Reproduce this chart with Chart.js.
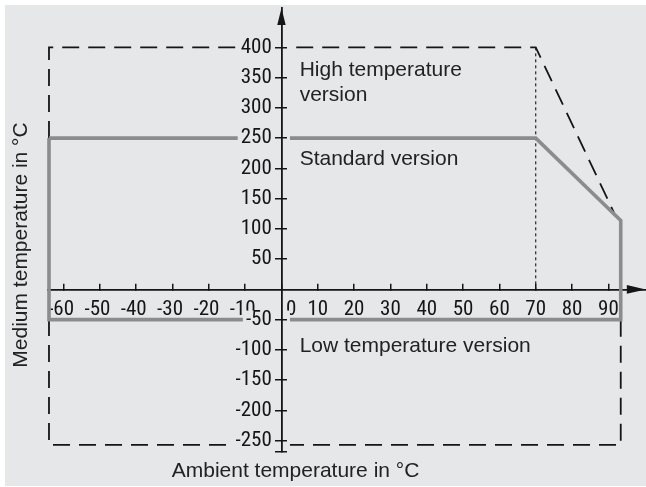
<!DOCTYPE html>
<html><head><meta charset="utf-8">
<script src="https://cdn.jsdelivr.net/npm/chart.js@4.4.1/dist/chart.umd.min.js"></script>
<style>
html,body{margin:0;padding:0;background:#fff;}
#wrap{position:relative;width:646px;height:487px;overflow:hidden;}
#bg{position:absolute;left:5px;top:5px;width:641px;height:481px;background:#e6e7e8;}
canvas{position:absolute;left:0;top:0;}
</style></head><body>
<div id="wrap"><div id="bg"></div><canvas id="c" width="646" height="487"></canvas></div>
<script>
// ---- data ----
const xTickValues = [-60, -50, -40, -30, -20, -10, 0, 10, 20, 30, 40, 50, 60, 70, 80, 90];
const yTickValues = [-250, -200, -150, -100, -50, 50, 100, 150, 200, 250, 300, 350, 400];
const yAxisEnd = -268;

// Standard version (solid grey outline)
const stdX = [-64, 70, 93.4, 93.4, -64, -64];
const stdY = [250, 250, 114, -50, -50, 250];
// High temperature version (dashed, upper part)
const hiX = [-64, -64, 70, 91.6];
const hiY = [250, 400, 400, 126];
// Low temperature version (dashed, lower part)
const loX = [93.4, 93.4, -64, -64];
const loY = [-50, -257, -257, -50];
// 70 °C reference (dotted)
const refX = [70, 70];
const refY = [400, 0];

const regionLabels = [
  {text: 'High temperature', x: 5, y: 352.6},
  {text: 'version', x: 5, y: 311.8},
  {text: 'Standard version', x: 5, y: 205},
  {text: 'Low temperature version', x: 5, y: -103}
];
const xTitle = 'Ambient temperature in °C';
const yTitle = 'Medium temperature in °C';

// ---- styling ----
const BG = '#e6e7e8';
const INK = '#151515';
const GREY = '#8c8c8c';
const textFamily = "'Liberation Sans', Arial, Helvetica, sans-serif";
const tickFamily = "'Roboto Condensed', 'DejaVu Sans Condensed', sans-serif";

const pts = (xs, ys) => xs.map((x, i) => ({x: x, y: ys[i]}));
const minus = '-';
function xLabel(v) {
  if (v === 0) return '    0';
  if (v < 0) return minus + (-v) + ' ';
  return String(v);
}
function yLabel(v) {
  if (v === yAxisEnd) return '';
  return (v < 0 ? minus + (-v) : String(v)) + '  ';
}

const decor = {
  id: 'decor',
  afterDraw(chart) {
    const c = chart.ctx, a = chart.chartArea;
    const xs = chart.scales.x, ys = chart.scales.y;
    const ax = xs.getPixelForValue(0), ay = ys.getPixelForValue(0);
    c.save();
    c.fillStyle = INK;
    // y arrow
    c.beginPath();
    c.moveTo(ax, a.top);
    c.lineTo(ax - 4.2, a.top + 17);
    c.lineTo(ax + 4.2, a.top + 17);
    c.closePath(); c.fill();
    // x arrow
    c.beginPath();
    c.moveTo(a.right, ay);
    c.lineTo(a.right - 19, ay - 4.3);
    c.lineTo(a.right - 19, ay + 4.3);
    c.closePath(); c.fill();
    // region labels
    c.fillStyle = '#222';
    c.font = '21px ' + textFamily;
    c.textAlign = 'left';
    c.textBaseline = 'alphabetic';
    regionLabels.forEach(l => c.fillText(l.text, xs.getPixelForValue(l.x), ys.getPixelForValue(l.y)));
    // axis titles
    c.fillText(xTitle, 171.7, 477);
    c.translate(26.7, 245);
    c.rotate(-Math.PI / 2);
    c.textAlign = 'center';
    c.fillText(yTitle, 0, 0);
    c.restore();
  }
};

const setTicks = list => scale => { scale.ticks = list.map(v => ({value: v})); };

new Chart(document.getElementById('c'), {
  type: 'scatter',
  data: {
    datasets: [
      {label: 'Standard version', data: pts(stdX, stdY), showLine: true, borderColor: GREY, borderWidth: 3.6,
       borderJoinStyle: 'miter', pointRadius: 0, fill: false, clip: false},
      {label: 'High temperature version', data: pts(hiX, hiY), showLine: true, borderColor: INK, borderWidth: 1.8,
       borderDash: [17, 9], pointRadius: 0, fill: false, clip: false},
      {label: 'Low temperature version', data: pts(loX, loY), showLine: true, borderColor: INK, borderWidth: 1.8,
       borderDash: [17, 9], pointRadius: 0, fill: false, clip: false},
      {label: '70 °C', data: pts(refX, refY), showLine: true, borderColor: INK, borderWidth: 1.1,
       borderDash: [3, 3], pointRadius: 0, fill: false, clip: false}
    ]
  },
  options: {
    responsive: false, animation: false, devicePixelRatio: 1,
    layout: {padding: {left: 47.9, right: 0.2, top: 8, bottom: 35.4}},
    plugins: {legend: {display: false}, tooltip: {enabled: false}},
    scales: {
      x: {
        type: 'linear', min: -64.3, max: 100.3, position: {y: 0},
        afterBuildTicks: setTicks(xTickValues),
        ticks: {autoSkip: false, maxRotation: 0, minRotation: 0, padding: 16.5, color: INK,
                font: {family: tickFamily, size: 21, lineHeight: 1}, callback: v => xLabel(v)},
        grid: {drawOnChartArea: false, drawTicks: true, tickLength: -7, color: INK, lineWidth: 1.5},
        border: {display: true, color: INK, width: 1.8}
      },
      y: {
        type: 'linear', min: yAxisEnd, max: 465, position: {x: 0},
        afterBuildTicks: setTicks([yAxisEnd].concat(yTickValues)),
        ticks: {autoSkip: false, padding: 4, color: INK, z: 1,
                font: {family: tickFamily, size: 21, lineHeight: 0.2},
                showLabelBackdrop: c => !(c.tick && c.tick.value === yAxisEnd),
                backdropColor: BG, backdropPadding: {top: 7, bottom: 7, left: 3, right: 8.5},
                callback: v => yLabel(v)},
        grid: {drawOnChartArea: false, drawTicks: true, tickLength: 6, color: INK, lineWidth: 1.5, z: 2},
        border: {display: true, color: INK, width: 1.8, z: 2}
      },
      y2: {
        type: 'linear', axis: 'y', min: yAxisEnd, max: 465, position: {x: 0},
        afterBuildTicks: setTicks([yAxisEnd].concat(yTickValues)),
        ticks: {display: false},
        grid: {drawOnChartArea: false, drawTicks: true, tickLength: -6, color: INK, lineWidth: 1.5, z: 2},
        border: {display: false}
      }
    }
  },
  plugins: [decor]
});
</script>
</body></html>
